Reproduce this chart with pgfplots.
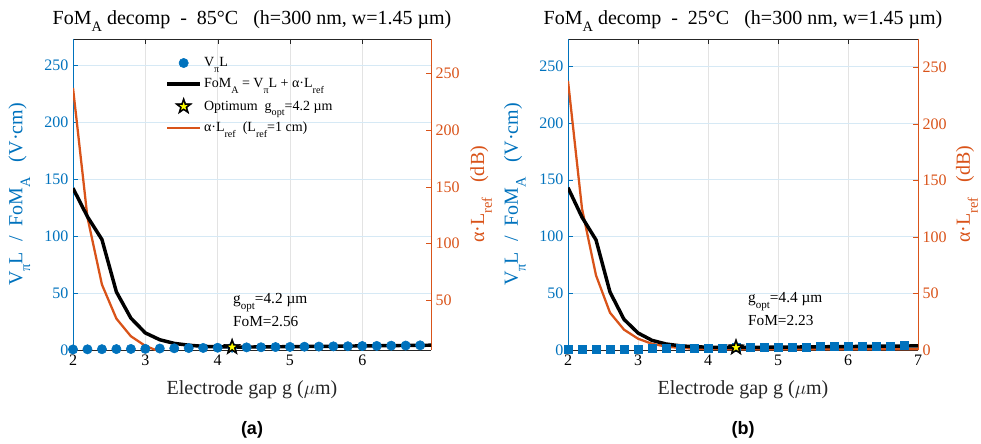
\documentclass[border=0pt]{standalone}
\usepackage{pgfplots}
\pgfplotsset{compat=1.18}
\usepackage{fontspec}
\setmainfont{Liberation Serif}
\newfontfamily\arialfont{Liberation Sans}
\definecolor{mblue}{rgb}{0,0.447,0.741}
\definecolor{morange}{rgb}{0.85,0.325,0.098}
\definecolor{myellow}{rgb}{1,1,0}
\newcommand\tickfont{\fontsize{12}{14}\selectfont}
\newcommand\labfont{\fontsize{15}{17}\selectfont}
\newcommand\titlefont{\fontsize{15}{17}\selectfont}
\newcommand\legfont{\fontsize{10.5}{12}\selectfont}
\newcommand\annfont{\fontsize{11.5}{13}\selectfont}
\makeatletter
\newcommand\sub[1]{\raisebox{-0.85ex}{\fontsize{\strip@pt\dimexpr0.72\fontdimen6\font\relax}{0}\selectfont #1}}
\makeatother

\pgfdeclareplotmark{pentastar}{%
 \pgfpathmoveto{\pgfpointpolar{90}{\pgfplotmarksize}}%
 \pgfpathlineto{\pgfpointpolar{126}{0.4\pgfplotmarksize}}%
 \pgfpathlineto{\pgfpointpolar{162}{\pgfplotmarksize}}%
 \pgfpathlineto{\pgfpointpolar{198}{0.4\pgfplotmarksize}}%
 \pgfpathlineto{\pgfpointpolar{234}{\pgfplotmarksize}}%
 \pgfpathlineto{\pgfpointpolar{270}{0.4\pgfplotmarksize}}%
 \pgfpathlineto{\pgfpointpolar{306}{\pgfplotmarksize}}%
 \pgfpathlineto{\pgfpointpolar{342}{0.4\pgfplotmarksize}}%
 \pgfpathlineto{\pgfpointpolar{18}{\pgfplotmarksize}}%
 \pgfpathlineto{\pgfpointpolar{54}{0.4\pgfplotmarksize}}%
 \pgfpathclose
 \pgfusepathqfillstroke
}

\pgfplotsset{
 base/.style={scale only axis, height=233.25pt, tick align=inside, major tick length=4pt,
   xmin=2, tick label style={font=\tickfont}, /pgf/number format/assume math mode=true,
   set layers, anchor=south west},
 lefty/.style={base, ymin=0, ymax=273, axis y line*=left, ytick={0,50,...,250},
   yticklabel style={text=mblue}, y axis line style={mblue, line width=0.7pt}, ytick style={mblue},
   x axis line style={black!85}, xtick style={black!85},
   xmajorgrids, ymajorgrids, x grid style={gray!22}, y grid style={mblue!16},
   xlabel={Electrode gap g ($\mu$m)},
   xlabel style={font=\labfont, text=black!85, at={(axis description cs:0.5,-0.129)}, anchor=center},
   ylabel={V\sub{π}L\ \ /\ \ FoM\sub{A}\ \ \ (V·cm)},
   ylabel style={font=\labfont, text=mblue, at={(axis description cs:-0.15,0.5)}, anchor=center},
   every axis title shift=0pt,
   title style={font=\titlefont, at={(axis description cs:0.5,1.048)}, anchor=base},
 },
 righty/.style={base, axis y line*=right, axis x line*=bottom, xtick=\empty, x axis line style={draw=none},
   yticklabel style={text=morange}, y axis line style={morange, line width=0.7pt}, ytick style={morange},
   ylabel={α·L\sub{ref}\ \ \ (dB)},
   ylabel style={font=\labfont, text=morange, at={(axis description cs:1.14,0.5)}, anchor=center},
 },
}

\begin{document}
\begin{tikzpicture}

% ---------------- Panel (a) ----------------
\begin{axis}[righty, at={(54.75pt,69.75pt)}, width=268.5pt, xmax=6.95,
  ymin=6.4, ymax=280, ytick={50,100,...,250}]
\addplot[morange, line width=1.7pt] coordinates {
(2.0,237) (2.2,123) (2.4,64) (2.6,34) (2.8,18.5) (3.0,10) (3.2,5) (3.4,2.6) (3.6,1.4) (3.8,0.8) (4.0,0.5) (4.5,0.3) (5,0.3) (6,0.3) (7,0.3)};
\end{axis}

\begin{axis}[lefty, at={(54.75pt,69.75pt)}, width=268.5pt, xmax=6.95, xtick={2,3,4,5,6},
  title={FoM\sub{A} decomp\ \ -\ \ 85°C\ \ \ (h=300 nm, w=1.45 µm)},
  legend style={at={(axis description cs:0.257,0.948)}, anchor=north west, draw=none, fill=none,
    font=\legfont, inner sep=0pt, row sep=4.5pt, nodes={inner sep=1.5pt}},
  legend cell align=left]
\addplot[forget plot, only marks, mark=*, mblue, mark size=3.5pt] coordinates {
(2.0,0.5) (2.2,0.6) (2.4,0.7) (2.6,0.8) (2.8,0.9) (3.0,1.0) (3.2,1.3) (3.4,1.5) (3.6,1.7) (3.8,1.8) (4.0,2.0) (4.2,2.1) (4.4,2.3) (4.6,2.4) (4.8,2.6) (5.0,2.7) (5.2,2.9) (5.4,3.0) (5.6,3.2) (5.8,3.3) (6.0,3.5) (6.2,3.6) (6.4,3.8) (6.6,3.9) (6.8,4.1)};
\addplot[forget plot, black, line width=2.6pt] coordinates {
(2.0,142) (2.2,117) (2.4,97) (2.6,51) (2.8,28) (3.0,15) (3.2,9) (3.4,5.8) (3.6,4.2) (3.8,3.2) (4.0,2.8) (4.2,2.56) (4.4,2.6) (4.6,2.7) (4.8,2.8) (5.0,2.95) (5.2,3.05) (5.4,3.2) (5.6,3.3) (5.8,3.45) (6.0,3.6) (6.2,3.7) (6.4,3.85) (6.6,4.0) (6.8,4.1) (7.0,4.25)};
\addplot[forget plot, only marks, mark=pentastar, mark size=6.5pt, black, mark options={fill=black}] coordinates {(4.2,2.56)};
\addplot[forget plot, only marks, mark=pentastar, mark size=2.6pt, myellow, mark options={fill=myellow, draw=myellow}] coordinates {(4.2,2.56)};
\node[anchor=base west, inner sep=0pt, font=\annfont] at (axis cs:4.21,41) {g\sub{opt}=4.2 µm};
\node[anchor=base west, inner sep=0pt, font=\annfont] at (axis cs:4.21,21) {FoM=2.56};
\addlegendimage{legend image code/.code={\draw[mblue, mark=*, mark size=3.5pt] plot coordinates {(12.5pt,0pt)};}}
\addlegendentry{V\sub{π}L}
\addlegendimage{legend image code/.code={\draw[black, line width=2.6pt] (0pt,0pt) -- (25pt,0pt);}}
\addlegendentry{FoM\sub{A} = V\sub{π}L + α·L\sub{ref}}
\addlegendimage{legend image code/.code={\draw[black, fill=black, mark=pentastar, mark size=6.5pt] plot coordinates {(12.5pt,0pt)}; \draw[myellow, fill=myellow, mark=pentastar, mark size=2.6pt] plot coordinates {(12.5pt,0pt)};}}
\addlegendentry{Optimum\ \ g\sub{opt}=4.2 µm}
\addlegendimage{legend image code/.code={\draw[morange, line width=1.7pt] (0pt,0pt) -- (25pt,0pt);}}
\addlegendentry{α·L\sub{ref}\ \ (L\sub{ref}=1 cm)}
\end{axis}

% ---------------- Panel (b) ----------------
\begin{axis}[righty, at={(426pt,69.75pt)}, width=262.5pt, xmax=7,
  ymin=0, ymax=275, ytick={0,50,...,250}]
\addplot[morange, line width=1.7pt] coordinates {
(2.0,238) (2.2,125) (2.4,66) (2.6,33) (2.8,18) (3.0,10) (3.2,5.5) (3.4,3) (3.6,1.8) (3.8,1.2) (4.0,0.9) (4.4,0.7) (5,0.6) (6,0.6) (7,0.6)};
\end{axis}

\begin{axis}[lefty, at={(426pt,69.75pt)}, width=262.5pt, xmax=7, xtick={2,3,4,5,6,7}, ymax=274,
  title={FoM\sub{A} decomp\ \ -\ \ 25°C\ \ \ (h=300 nm, w=1.45 µm)},
  ylabel style={at={(axis description cs:-0.152,0.5)}}]
\addplot[only marks, mark=square*, mblue, mark size=3pt] coordinates {
(2.0,0.4) (2.2,0.5) (2.4,0.6) (2.6,0.7) (2.8,0.8) (3.0,0.9) (3.2,1.1) (3.4,1.3) (3.6,1.5) (3.8,1.6) (4.0,1.8) (4.2,1.9) (4.4,2.0) (4.6,2.2) (4.8,2.3) (5.0,2.5) (5.2,2.6) (5.4,2.8) (5.6,2.9) (5.8,3.1) (6.0,3.2) (6.2,3.4) (6.4,3.5) (6.6,3.7) (6.8,3.8)};
\addplot[black, line width=2.6pt] coordinates {
(2.0,143) (2.2,117) (2.4,97) (2.6,51) (2.8,27) (3.0,15) (3.2,8.5) (3.4,5.3) (3.6,3.7) (3.8,2.9) (4.0,2.5) (4.2,2.3) (4.4,2.23) (4.6,2.3) (4.8,2.4) (5.0,2.5) (5.2,2.6) (5.4,2.7) (5.6,2.8) (5.8,2.95) (6.0,3.05) (6.2,3.15) (6.4,3.3) (6.6,3.4) (6.8,3.5) (7.0,3.6)};
\addplot[only marks, mark=pentastar, mark size=6.5pt, black, mark options={fill=black}] coordinates {(4.4,2.23)};
\addplot[only marks, mark=pentastar, mark size=2.6pt, myellow, mark options={fill=myellow, draw=myellow}] coordinates {(4.4,2.23)};
\node[anchor=base west, inner sep=0pt, font=\annfont] at (axis cs:4.57,42) {g\sub{opt}=4.4 µm};
\node[anchor=base west, inner sep=0pt, font=\annfont] at (axis cs:4.57,22) {FoM=2.23};
\end{axis}

\node[font=\arialfont\bfseries\fontsize{13.5}{15}\selectfont] at (189pt,10pt) {(a)};
\node[font=\arialfont\bfseries\fontsize{13.5}{15}\selectfont] at (557.25pt,10pt) {(b)};
\pgfresetboundingbox
\path (0,0) rectangle (735.75pt,332.25pt);
\end{tikzpicture}
\end{document}
